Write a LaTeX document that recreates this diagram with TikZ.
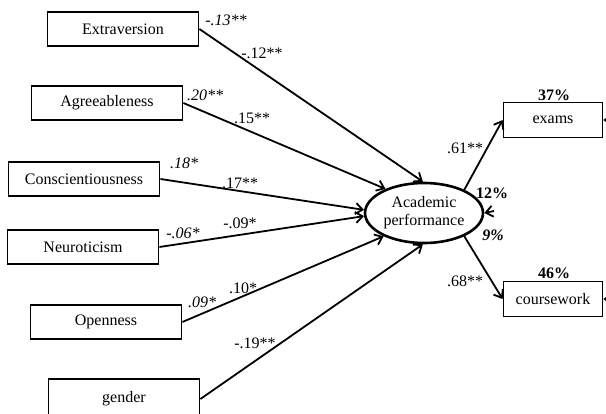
\documentclass[tikz,border=0pt]{standalone}
\usepackage{fontspec}
\setmainfont{Liberation Serif}
\usetikzlibrary{positioning, arrows.meta, shapes.geometric}

\begin{document}
\begin{tikzpicture}[
  x=1pt, y=-1pt,
  font=\fontsize{16}{18}\selectfont,
  trait/.style={draw, line width=1.8pt, minimum width=151pt, minimum height=34pt, inner sep=0pt},
  outc/.style={draw, line width=1.8pt, minimum width=99pt, minimum height=35pt, inner sep=0pt},
  latent/.style={draw, ellipse, line width=2.6pt, minimum width=118pt, minimum height=60pt,
                 inner sep=0pt, align=center},
  ar/.style={-{Straight Barb[length=7pt,width=11pt]}, line width=1.8pt},
  coef/.style={inner sep=1pt},
  pct/.style={inner sep=1pt, font=\fontsize{16}{18}\selectfont\bfseries},
]
  \useasboundingbox (0,0) rectangle (606,413);

  \node[trait] (ext) at (123,29) {Extraversion};
  \node[trait] (agr) at (107,103) {Agreeableness};
  \node[trait] (con) at (84,179) {Conscientiousness};
  \node[trait] (neu) at (83,247) {Neuroticism};
  \node[trait] (opn) at (106,322) {Openness};
  \node[trait, minimum height=40pt] (gen) at (124,399) {gender};
  \node[latent] (ap) at (424,213) {Academic\\performance};
  \node[outc] (exm) at (553,120) {exams};
  \node[outc] (cw) at (553,299) {coursework};

  \coordinate (rap) at (494,211);
  \coordinate (rexm) at (625,120);
  \coordinate (rcw) at (625,299);

  \draw[ar] (ext.east) -- (ap.92);
  \draw[ar] (agr.east) -- (ap.148);
  \draw[ar] (con.east) -- (ap.177);
  \draw[ar] (neu.east) -- (ap.183);
  \draw[ar] (opn.east) -- (ap.210);
  \draw[ar] (gen.east) -- (ap.268);
  \draw[ar] (ap.30) -- (exm.west);
  \draw[ar] (ap.-30) -- (cw.west);
  \draw[ar] (rap) -- (ap.east);
  \draw[ar] (rexm) -- (exm.east);
  \draw[ar] (rcw) -- (cw.east);

  \node[coef] (l1a) at (226,20) {\textit{-.13**}};
  \node[coef] (l1b) at (262,53) {-.12**};
  \node[coef] (l2a) at (205,95) {\textit{.20**}};
  \node[coef] (l2b) at (252,118) {.15**};
  \node[coef] (l3a) at (184,163) {\textit{.18*}};
  \node[coef] (l3b) at (240,183) {.17**};
  \node[coef] (l4a) at (183,233) {\textit{-.06*}};
  \node[coef] (l4b) at (240,223) {-.09*};
  \node[coef] (l5a) at (202,302) {\textit{.09*}};
  \node[coef] (l5b) at (243,288) {.10*};
  \node[coef] (l6b) at (255,343) {-.19**};
  \node[coef] (l7) at (465,148) {.61**};
  \node[coef] (l8) at (465,281) {.68**};
  \node[pct] (p1) at (554,95) {37\%};
  \node[pct] (p2) at (554,273) {46\%};
  \node[pct] (p3) at (492,193) {12\%};
  \node[pct] (p4) at (493,235) {\textit{9\%}};
\end{tikzpicture}
\end{document}
